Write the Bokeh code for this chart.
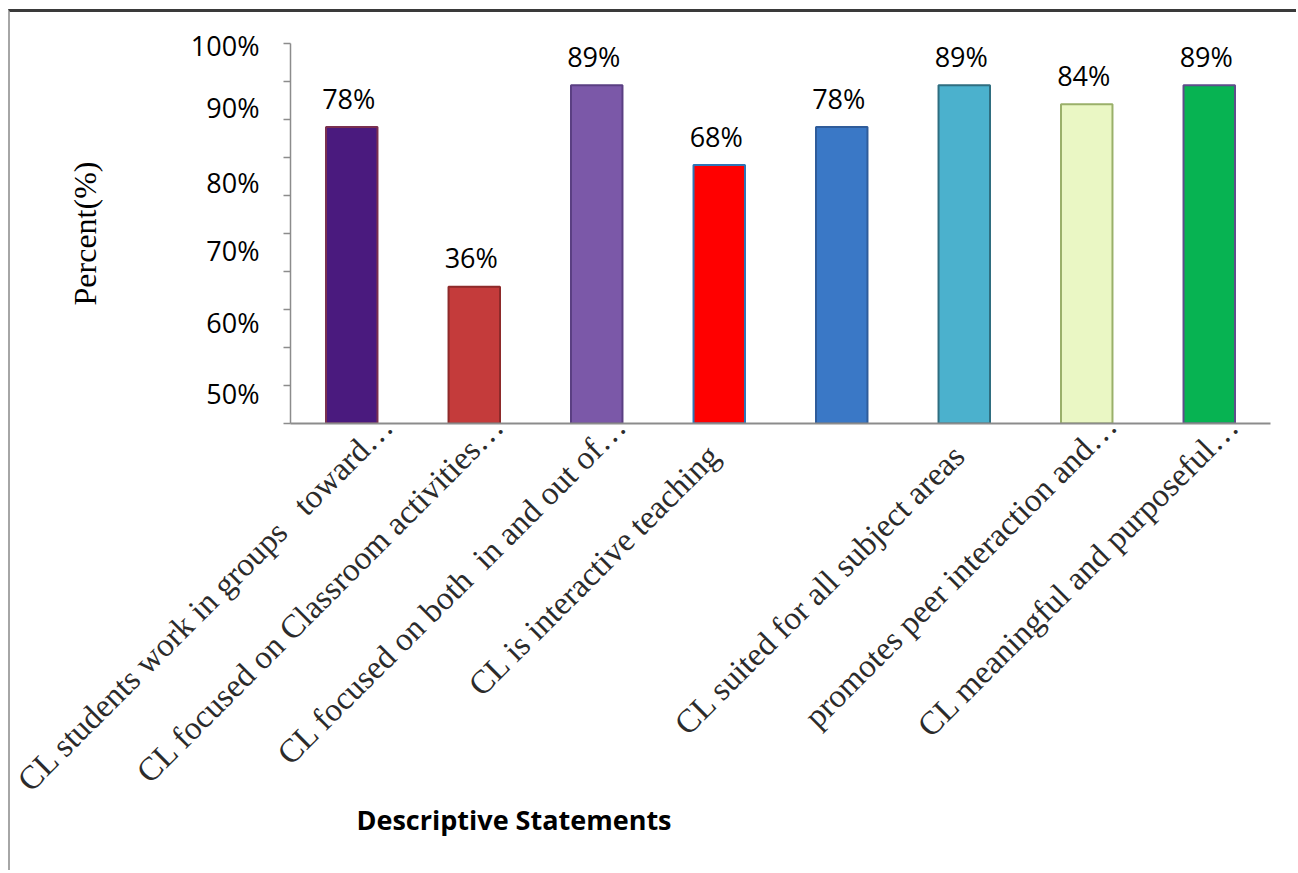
import math
import re

from bokeh.core.properties import value
from bokeh.embed import file_html
from bokeh.models import (ColumnDataSource, FixedTicker, LinearAxis, Range1d,
                          Title)
from bokeh.plotting import figure
from bokeh.resources import INLINE

# ---- data -------------------------------------------------------------
categories = [
    "CL students work in groups   toward\u2026",
    "CL focused on Classroom activities\u2026",
    "CL focused on both  in and out of\u2026",
    "CL is interactive teaching",
    "",
    "CL suited for all subject areas",
    "promotes peer interaction and\u2026",
    "CL meaningful and purposeful\u2026",
]
percent = [78, 36, 89, 68, 78, 89, 84, 89]

y_tick_labels = ["100%", "90%", "80%", "70%", "60%", "50%"]

# ---- layout / style ---------------------------------------------------
# where each y tick label sits on the 0-100 scale
y_label_pos = [99.4, 83.1, 63.4, 45.5, 26.6, 8.0]
y_tick_marks = list(range(0, 101, 10))

fill_colors = ["#4a1a7e", "#c43b3b", "#7b58a8", "#ff0000",
               "#3a78c6", "#4bb1cd", "#eaf7c4", "#07b352"]
line_colors = ["#7a3050", "#8e2a2a", "#5a3f82", "#2e75b6",
               "#2f5c9a", "#2f6e80", "#9ab06a", "#5e4d8a"]

AXIS_GREY = "#8c8c8c"
LABEL_SHIFT = 0.20           # category labels end slightly right of the bar centre
FULL_PAD = "\u00a0" * 5      # untruncated labels are set back along their slant


def keep_spaces(s):
    # runs of spaces would collapse in SVG text; keep their width
    return re.sub(r" {2,}", lambda m: "\u00a0" * len(m.group()), s)


n = len(categories)
xs = [i + 0.5 for i in range(n)]

p = figure(width=1288, height=861,
           x_range=Range1d(0, n), y_range=Range1d(0, 100),
           x_axis_type=None, y_axis_type=None,
           output_backend="svg", toolbar_location=None,
           min_border_left=280, min_border_right=28,
           min_border_top=31, min_border_bottom=450)
p.outline_line_color = None
p.background_fill_color = "white"
p.border_fill_color = "white"
# page rules along the top and left edge
p.styles = {
    "margin-left": "8px",
    "margin-top": "9px",
    "border-top": "3px solid #3a3a3a",
    "border-left": "2px solid #a6a6a6",
}

# ---- y axis: tick marks every 10, labels at their own spots ----------
yaxis = LinearAxis(
    ticker=FixedTicker(ticks=y_label_pos, minor_ticks=y_tick_marks),
    major_label_overrides={v: t for v, t in zip(y_label_pos, y_tick_labels)},
    axis_label="Percent(%)",
)
yaxis.major_tick_line_color = None
yaxis.major_tick_in = 0
yaxis.major_tick_out = 0
yaxis.minor_tick_in = 0
yaxis.minor_tick_out = 7
yaxis.minor_tick_line_color = AXIS_GREY
yaxis.minor_tick_line_width = 1.5
yaxis.axis_line_color = AXIS_GREY
yaxis.axis_line_width = 1.5
yaxis.major_label_standoff = 24
yaxis.major_label_text_font = "Open Sans"
yaxis.major_label_text_font_size = "27px"
yaxis.major_label_text_color = "black"
yaxis.axis_label_text_font = "Liberation Serif"
yaxis.axis_label_text_font_size = "32px"
yaxis.axis_label_text_font_style = "normal"
yaxis.axis_label_text_color = "black"
yaxis.axis_label_standoff = 85
p.add_layout(yaxis, "left")

# ---- x axis: slanted statement labels --------------------------------
label_ticks = [x + LABEL_SHIFT for x in xs]
label_texts = [keep_spaces(c) if (c == "" or c.endswith("\u2026"))
               else keep_spaces(c) + FULL_PAD
               for c in categories]
xaxis = LinearAxis(
    ticker=FixedTicker(ticks=label_ticks, minor_ticks=[]),
    major_label_overrides={t: s for t, s in zip(label_ticks, label_texts)},
)
xaxis.major_tick_line_color = None
xaxis.major_tick_in = 0
xaxis.major_tick_out = 0
xaxis.minor_tick_line_color = None
xaxis.axis_line_color = AXIS_GREY
xaxis.axis_line_width = 2
xaxis.major_label_orientation = math.pi / 4
xaxis.major_label_standoff = -3
xaxis.major_label_text_font = "Liberation Serif"
xaxis.major_label_text_font_size = "33px"
xaxis.major_label_text_color = "#2b2b2b"
p.add_layout(xaxis, "below")

# ---- x axis title, set left of centre ---------------------------------
p.add_layout(Title(text="Descriptive Statements", align="left", offset=66,
                   standoff=-26, vertical_align="top",
                   text_font="Open Sans", text_font_size="27px",
                   text_font_style="bold", text_color="black"), "below")

# ---- bars and value labels --------------------------------------------
src = ColumnDataSource(dict(
    x=xs, top=percent,
    label=[f"{v}%" for v in percent],
    fill=fill_colors, line=line_colors,
))
p.vbar(x="x", top="top", bottom=0, width=0.42, source=src,
       fill_color="fill", line_color="line", line_width=2)
p.text(x="x", y="top", text="label", source=src,
       text_font=value("Open Sans"), text_font_size="27px",
       text_color="black", text_align="center", text_baseline="alphabetic",
       x_offset=-3, y_offset=-29)

open("out.html", "w").write(file_html(p, INLINE))
